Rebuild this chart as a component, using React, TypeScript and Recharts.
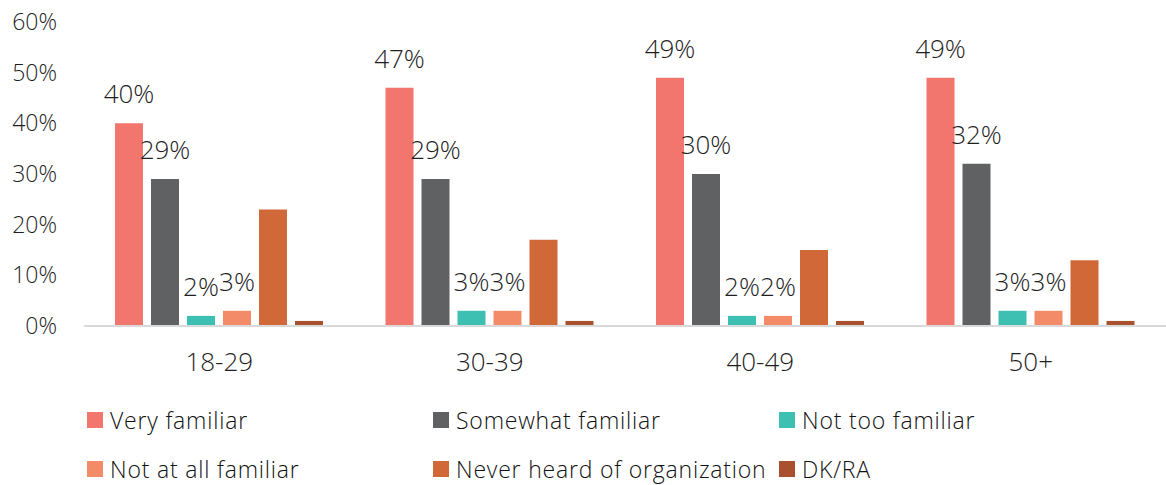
import { BarChart, Bar, XAxis, YAxis, Legend, LabelList } from "recharts";

const ageGroups = ["18-29", "30-39", "40-49", "50+"];

const veryFamiliar = [40, 47, 49, 49];
const somewhatFamiliar = [29, 29, 30, 32];
const notTooFamiliar = [2, 3, 2, 3];
const notAtAllFamiliar = [3, 3, 2, 3];
const neverHeard = [23, 17, 15, 13];
const dkRa = [1, 1, 1, 1];

const yTicks = [0, 10, 20, 30, 40, 50, 60];

const series = [
  { key: "very", name: "Very familiar", color: "#F2766E", values: veryFamiliar, labelled: true },
  { key: "somewhat", name: "Somewhat familiar", color: "#606163", values: somewhatFamiliar, labelled: true },
  { key: "notToo", name: "Not too familiar", color: "#3DBFB1", values: notTooFamiliar, labelled: true },
  { key: "notAtAll", name: "Not at all familiar", color: "#F38B69", values: notAtAllFamiliar, labelled: true },
  { key: "never", name: "Never heard of organization", color: "#D06838", values: neverHeard, labelled: false },
  { key: "dk", name: "DK/RA", color: "#A9502E", values: dkRa, labelled: false },
];

const data = ageGroups.map((group, i) => {
  const row: Record<string, string | number> = { group };
  series.forEach((s) => {
    row[s.key] = s.values[i];
  });
  return row;
});

const FONT = "'Open Sans', 'DejaVu Sans', sans-serif";
const TEXT = "#1f1f1f";

function renderLegend() {
  return (
    <div
      style={{
        display: "grid",
        gridTemplateColumns: "346px 346px 346px",
        paddingLeft: 87,
        fontFamily: FONT,
        fontSize: 23,
        fontWeight: 350,
        letterSpacing: 0.8,
        color: "#111",
      }}
    >
      {series.map((s) => (
        <div key={s.key} style={{ display: "flex", alignItems: "center", height: 49, whiteSpace: "nowrap" }}>
          <span style={{ width: 16, height: 16, background: s.color, marginRight: 7, flex: "none" }} />
          <span>{s.name}</span>
        </div>
      ))}
    </div>
  );
}

export default function App() {
  return (
    <div style={{ position: "absolute", left: 0, top: 0, background: "#fff", fontFamily: FONT }}>
      <BarChart
        width={1166}
        height={485}
        data={data}
        margin={{ top: 22, right: 0, left: 0, bottom: 109 }}
        barSize={28}
        barGap={8}
      >
        <XAxis
          dataKey="group"
          axisLine={{ stroke: "#D9D9D9", strokeWidth: 2 }}
          tickLine={false}
          tickSize={0}
          tickMargin={27}
          height={50}
          tick={{ fontSize: 26, fill: TEXT, fontFamily: FONT, fontWeight: 330 }}
        />
        <YAxis
          domain={[0, 60]}
          ticks={yTicks}
          width={84}
          axisLine={false}
          tickLine={false}
          tickSize={0}
          tickMargin={27}
          interval={0}
          tickFormatter={(v) => `${v}%`}
          tick={{ fontSize: 23, fill: TEXT, fontFamily: FONT, fontWeight: 330 }}
        />
        {series.map((s) => (
          <Bar key={s.key} dataKey={s.key} name={s.name} fill={s.color} isAnimationActive={false}>
            {s.labelled && (
              <LabelList
                dataKey={s.key}
                position="top"
                offset={20}
                formatter={(v: number) => `${v}%`}
                style={{ fontSize: 26, fill: TEXT, fontFamily: FONT, fontWeight: 330 }}
              />
            )}
          </Bar>
        ))}
        <Legend
          verticalAlign="middle"
          align="center"
          layout="horizontal"
          content={renderLegend}
          wrapperStyle={{ top: 395, left: 0, width: 1166 }}
        />
      </BarChart>
    </div>
  );
}
